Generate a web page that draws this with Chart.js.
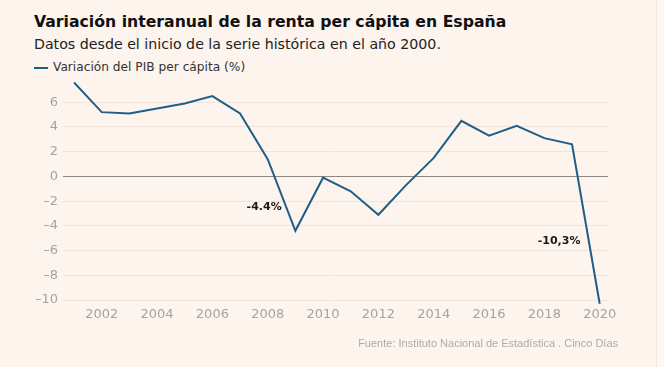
<!DOCTYPE html>
<html>
<head>
<meta charset="utf-8">
<script src="https://cdn.jsdelivr.net/npm/chart.js@4"></script>
<style>
	html, body { margin: 0; padding: 0; }
	body { width: 664px; height: 367px; background: #fdf4ee; position: relative; overflow: hidden; font-family: 'DejaVu Sans', sans-serif; }
	#chart { position: absolute; left: 0; top: 0; }
	.title { position: absolute; left: 34px; top: 12px; font-size: 15.7px; font-weight: bold; color: #111; white-space: nowrap; }
	.subtitle { position: absolute; left: 34px; top: 36px; font-size: 14.2px; color: #222; white-space: nowrap; }
	.legend { position: absolute; left: 34px; top: 60px; font-size: 12.2px; color: #333; white-space: nowrap; }
	.legend span { display: inline-block; width: 14px; height: 2px; background: #1f5f87; vertical-align: middle; margin-right: 5px; }
	.source { position: absolute; right: 46px; top: 337px; font-family: 'Liberation Sans', Arial, sans-serif; font-size: 11px; color: #b0aaa4; white-space: nowrap; }
	.edge { position: absolute; left: 656px; top: 0; width: 8px; height: 367px; border-left: 1px solid #f3e9e2; background: #fdf6f2; }
</style>
</head>
<body>
<div class="title">Variación interanual de la renta per cápita en España</div>
<div class="subtitle">Datos desde el inicio de la serie histórica en el año 2000.</div>
<div class="legend"><span></span>Variación del PIB per cápita (%)</div>
<canvas id="chart" width="664" height="367"></canvas>
<div class="source">Fuente: Instituto Nacional de Estadística . Cinco Días</div>
<div class="edge"></div>
<script>
const years = [2001, 2002, 2003, 2004, 2005, 2006, 2007, 2008, 2009, 2010, 2011, 2012, 2013, 2014, 2015, 2016, 2017, 2018, 2019, 2020];
const pibPerCapita = [7.6, 5.2, 5.1, 5.5, 5.9, 6.5, 5.1, 1.4, -4.4, -0.1, -1.2, -3.1, -0.7, 1.5, 4.5, 3.3, 4.1, 3.1, 2.6, -10.3];
const xTicks = [2002, 2004, 2006, 2008, 2010, 2012, 2014, 2016, 2018, 2020];
const yTicks = [-10, -8, -6, -4, -2, 0, 2, 4, 6];
const noteLabels = ['-4.4%', '-10,3%'];
const noteX = [2007.87, 2018.53];
const noteY = [-2.5, -5.2];

const lineColor = '#1f5f87';
const tickFont = { family: '"DejaVu Sans", sans-serif', size: 13 };

const notesPlugin = {
	id: 'notes',
	afterDatasetsDraw(chart) {
		const { ctx, scales } = chart;
		ctx.save();
		ctx.font = 'bold 11px "DejaVu Sans", sans-serif';
		ctx.fillStyle = '#1a1a1a';
		ctx.textAlign = 'center';
		ctx.textBaseline = 'middle';
		noteLabels.forEach((label, i) => {
			ctx.fillText(label, scales.x.getPixelForValue(noteX[i]), scales.y.getPixelForValue(noteY[i]));
		});
		ctx.restore();
	}
};

new Chart(document.getElementById('chart'), {
	type: 'line',
	data: {
		datasets: [
			{
				label: 'Variación del PIB per cápita (%)',
				data: years.map((year, i) => ({ x: year, y: pibPerCapita[i] })),
				borderColor: lineColor,
				borderWidth: 2,
				pointRadius: 0,
				tension: 0,
			},
		],
	},
	options: {
		responsive: false,
		animation: false,
		layout: { padding: { top: 80, right: 56, bottom: 32, left: 0 } },
		plugins: { legend: { display: false }, tooltip: { enabled: false } },
		scales: {
			x: {
				type: 'linear',
				min: 2000.6,
				max: 2020.3,
				afterFit: (scale) => { scale.height = 30; },
				afterBuildTicks: (scale) => { scale.ticks = xTicks.map((v) => ({ value: v })); },
				grid: { display: false, drawTicks: false },
				border: { display: false },
				ticks: {
					color: '#a8a29d',
					font: tickFont,
					padding: 2,
					maxRotation: 0,
					callback: (v) => String(v),
				},
			},
			y: {
				min: -10.4,
				max: 7.8,
				afterFit: (scale) => { scale.width = 63; },
				afterBuildTicks: (scale) => { scale.ticks = yTicks.map((v) => ({ value: v })); },
				border: { display: false },
				grid: {
					drawTicks: false,
					color: (c) => (c.tick && c.tick.value === 0 ? '#8d8782' : '#efe5dc'),
					lineWidth: 1,
				},
				ticks: {
					color: '#a8a29d',
					font: tickFont,
					padding: 5,
					callback: (v) => (v < 0 ? '\u2013' + Math.abs(v) : String(v)),
				},
			},
		},
	},
	plugins: [notesPlugin],
});
</script>
</body>
</html>
